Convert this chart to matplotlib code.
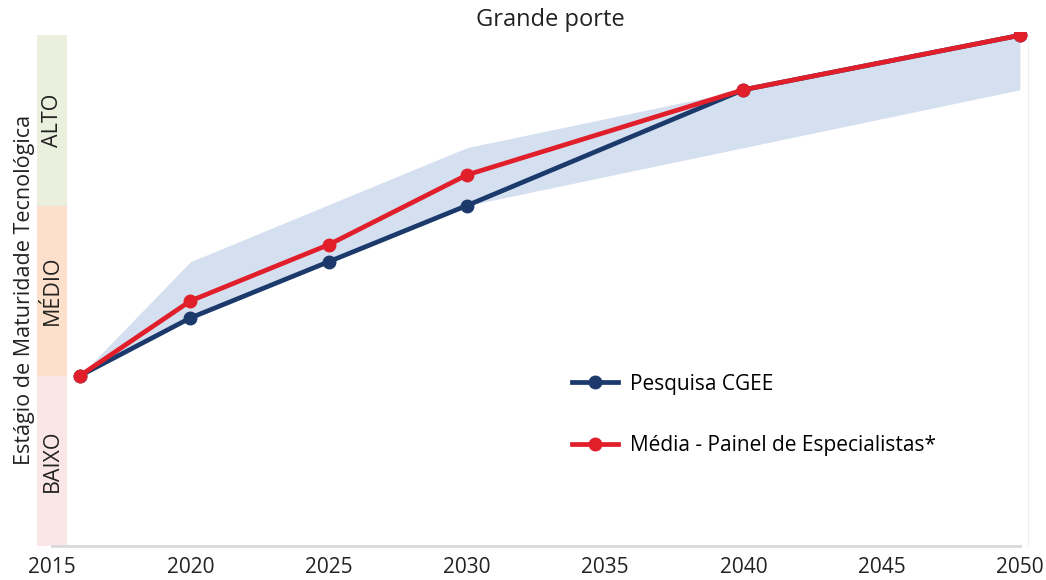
import matplotlib.pyplot as plt
from matplotlib.patches import Rectangle

# data (0 = bottom, 1 = BAIXO/MÉDIO, 2 = MÉDIO/ALTO, 3 = top)
years = [2016, 2020, 2025, 2030, 2040, 2050]
pesquisa = [1.0, 1.34, 1.67, 2.0, 2.68, 3.0]
media = [1.0, 1.44, 1.77, 2.18, 2.68, 3.0]
band_years = [2016, 2020, 2030, 2040, 2050]
band_low = [1.0, 1.34, 2.0, 2.34, 2.68]
band_high = [1.0, 1.67, 2.34, 2.68, 3.0]
xticks = [2015, 2020, 2025, 2030, 2035, 2040, 2045, 2050]
levels = ['BAIXO', 'MÉDIO', 'ALTO']
level_colors = ['#fbe6e7', '#fde0cb', '#eaf0dd']

plt.rcParams['font.family'] = ['Open Sans', 'DejaVu Sans']

fig = plt.figure(figsize=(10.46, 5.80), dpi=100)
ax = fig.add_axes([0.0354, 0.0586, 0.9476, 0.8864])
ax.set_xlim(2014.45, 2050.3)
ax.set_ylim(0, 3.02)

# maturity level strips on the left
for i, (lab, col) in enumerate(zip(levels, level_colors)):
    top = min(i + 1, 3.02)
    ax.add_patch(Rectangle((2014.45, i), 1.1, top - i, color=col, lw=0, zorder=0))
    ax.text(2015.0, (i + top) / 2, lab, rotation=90, ha='center', va='center',
            fontsize=15.5, color='#222222')

ax.fill_between(band_years, band_low, band_high, color='#d4dff0', lw=0, zorder=1)
ax.plot(years, pesquisa, color='#1b3a6b', lw=3.4, marker='o', ms=9,
        label='Pesquisa CGEE', zorder=3)
ax.plot(years, media, color='#e01f2b', lw=3.4, marker='o', ms=9,
        label='Média - Painel de Especialistas*', zorder=4)

ax.set_xticks(xticks)
ax.set_xticklabels([str(y) for y in xticks], fontsize=15, color='#222222')
ax.set_yticks([])
ax.tick_params(axis='x', length=0, pad=8)
for s in ['top', 'left']:
    ax.spines[s].set_visible(False)
ax.spines['right'].set_color('#f0f0f0')
ax.spines['right'].set_bounds(0, 3.0)
ax.spines['bottom'].set_color('#d9d9d9')
ax.spines['bottom'].set_linewidth(2)
ax.spines['bottom'].set_bounds(2015, 2050)

ax.set_title('Grande porte', fontsize=17, color='#222222', pad=1, x=0.518)
fig.text(25 / 1046, 1 - 290 / 580, 'Estágio de Maturidade Tecnológica', rotation=90,
         ha='center', va='center', fontsize=15.5, color='#222222')

ax.legend(loc='upper left', bbox_to_anchor=(553 / 1046, 1 - 355 / 580),
          bbox_transform=fig.transFigure, frameon=False, fontsize=15,
          labelspacing=1.95, handlelength=2.2, handletextpad=0.6)

fig.savefig('out.png', dpi=100)
